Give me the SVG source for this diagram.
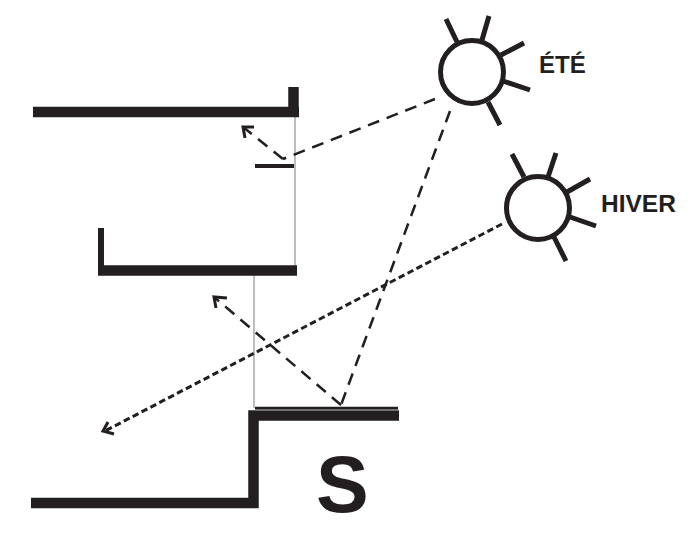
<svg xmlns="http://www.w3.org/2000/svg" width="700" height="540" viewBox="0 0 700 540">
<style>
.w{fill:none;stroke:#231f20;stroke-linecap:butt}
.g{fill:none;stroke:#bdbdbd;stroke-width:2}
.d{fill:none;stroke:#231f20;stroke-width:2.500;stroke-dasharray:12 8}
.f{fill:none;stroke:#231f20;stroke-width:3;stroke-dasharray:6.500 3.500}
.a{fill:none;stroke:#231f20;stroke-width:3}
.r{fill:none;stroke:#231f20;stroke-width:5}
.c{fill:#fff;stroke:#231f20;stroke-width:5}
text{font-family:"Liberation Sans",Arial,sans-serif;font-weight:700;fill:#231f20}
</style>
<g id="building">
<path class="g" d="M295 116V266"/>
<path class="g" d="M254 274V408"/>
<path class="w" stroke-width="10.500" d="M33 112H299"/>
<path class="w" stroke-width="10.500" d="M293.500 87V112"/>
<path class="w" stroke-width="6" d="M101 228V272"/>
<path class="w" stroke-width="10.500" d="M98 270.500H297"/>
<path class="w" stroke-width="10.500" d="M31 503H253.500V415.500H399"/>
<path stroke="#8a8a8a" stroke-width="2" d="M255 409.500H398"/>
<path stroke="#231f20" stroke-width="2.500" d="M255 408H398"/>
<path class="w" stroke-width="4" d="M255 166H294"/>
</g>
<g id="connectors">
<path class="d" d="M435 99L283 159"/>
<path class="d" d="M283 159L243 127"/>
<path class="a" d="M245 138L243 127L254 127"/>
<path class="d" d="M450 111L341 405"/>
<path class="d" d="M341 405L214 297"/>
<path class="a" d="M216 308L214 297L227 298"/>
<path class="f" d="M502 224L105 431"/>
<path class="a" d="M114 434L103 431L108 422"/>
</g>
<g id="sun-ete">
<circle class="c" cx="472" cy="72" r="31.500"/>
<path class="r" d="M457 42L446 19M482 40L489 16M501 55L524 43M503 81L530 90M488 102L500 125"/>
<text x="539" y="73" font-size="24">ÉTÉ</text>
</g>
<g id="sun-hiver">
<circle class="c" cx="538" cy="208" r="31.500"/>
<path class="r" d="M524 177L512 154M548 177L556 153M567 192L590 179M570 217L596 226M554 237L566 261"/>
<text x="601" y="212" font-size="24.500">HIVER</text>
</g>
<g id="label-s">
<text x="316" y="512" font-size="79">S</text>
</g>
</svg>
